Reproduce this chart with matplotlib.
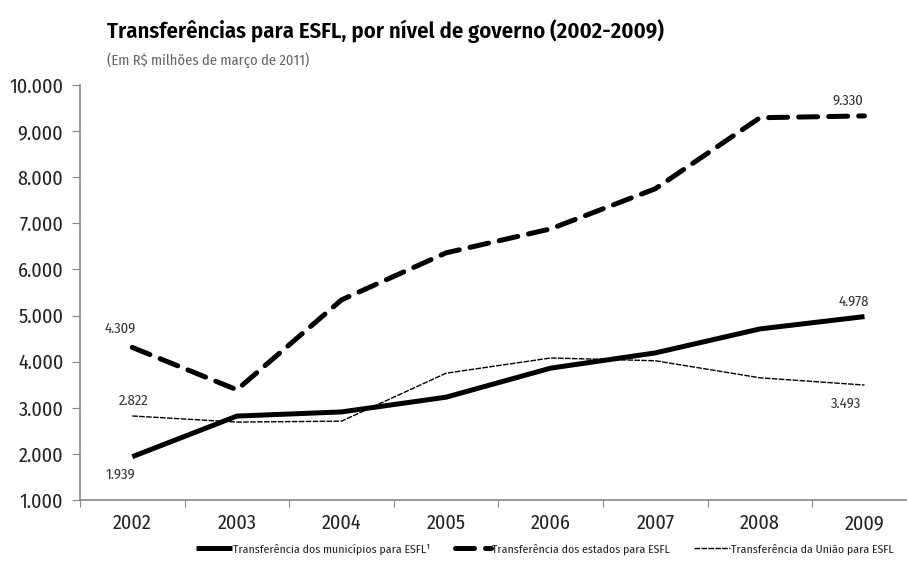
import matplotlib
matplotlib.use('Agg')
from matplotlib import pyplot as plt
import matplotlib.ticker as ticker

plt.rcParams['font.family'] = ['Fira Sans Condensed', 'DejaVu Sans']

years = [2002, 2003, 2004, 2005, 2006, 2007, 2008, 2009]
municipios = [1939, 2820, 2910, 3230, 3860, 4190, 4710, 4978]
estados = [4309, 3390, 5340, 6360, 6880, 7750, 9290, 9330]
uniao = [2822, 2690, 2710, 3750, 4080, 4020, 3650, 3493]

labels = ['Transferência dos municípios para ESFL\u00b9',
          'Transferência dos estados para ESFL',
          'Transferência da União para ESFL']

title = 'Transferências para ESFL, por nível de governo (2002-2009)'
subtitle = '(Em R$ milhões de março de 2011)'

def fmt_thousands(v, pos=None):
    return '{:,.0f}'.format(v).replace(',', '.')

fig = plt.figure(figsize=(9.07, 5.63), dpi=100)
ax = fig.add_axes([80 / 907, 63 / 563, 1 - 80 / 907, 415 / 563])

ax.plot(years, municipios, color='black', linewidth=3.6,
        solid_capstyle='butt', label=labels[0], zorder=3)
ax.plot(years, estados, color='black', linewidth=3.6,
        dashes=(3.8, 2.2), dash_capstyle='round', label=labels[1], zorder=3)
ax.plot(years, uniao, color='black', linewidth=1.0,
        dashes=(4, 1), label=labels[2], zorder=2)

# end point labels
lab_font = dict(fontsize=10.5, color='#333333', ha='center', va='center',
                textcoords='offset pixels')
ax.annotate(fmt_thousands(estados[0]), (years[0], estados[0]), xytext=(-12, 19), **lab_font)
ax.annotate(fmt_thousands(uniao[0]), (years[0], uniao[0]), xytext=(1, 15), **lab_font)
ax.annotate(fmt_thousands(municipios[0]), (years[0], municipios[0]), xytext=(-12, -18), **lab_font)
ax.annotate(fmt_thousands(estados[-1]), (years[-1], estados[-1]), xytext=(-17, 15), **lab_font)
ax.annotate(fmt_thousands(municipios[-1]), (years[-1], municipios[-1]), xytext=(-11, 15), **lab_font)
ax.annotate(fmt_thousands(uniao[-1]), (years[-1], uniao[-1]), xytext=(-19, -19), **lab_font)

ax.set_xlim(2001.5, 2001.5 + 827 / 104.6)
ax.set_ylim(1000, 10000)
ax.yaxis.set_major_locator(ticker.MultipleLocator(1000))
ax.yaxis.set_major_formatter(ticker.FuncFormatter(fmt_thousands))

# category labels centered, ticks between categories
ax.set_xticks([y - 0.5 for y in years])
ax.set_xticklabels([])
ax.set_xticks(years, minor=True)
ax.set_xticklabels([str(y) for y in years], minor=True)
ax.tick_params(axis='x', which='minor', length=0, pad=10, labelsize=14.5, labelcolor='#222222')
ax.tick_params(axis='x', which='major', length=5, direction='out', color='#888888')
ax.tick_params(axis='y', length=6, direction='out', color='#888888', pad=6,
               labelsize=14.5, labelcolor='#222222')

for side in ['top', 'right']:
    ax.spines[side].set_visible(False)
for side in ['left', 'bottom']:
    ax.spines[side].set_color('#888888')
    ax.spines[side].set_linewidth(1.2)

fig.text(107 / 907, 1 - 31 / 563, title, fontsize=16.3, fontweight='semibold',
         ha='left', va='center', color='black')
fig.text(107 / 907, 1 - 60 / 563, subtitle, fontsize=10.5,
         ha='left', va='center', color='#666666')

leg = fig.legend(loc='center right', bbox_to_anchor=(0.997, 1 - 549 / 563), ncol=3,
                 frameon=False, handlelength=3.0, handletextpad=0.1,
                 columnspacing=2.1, prop={'size': 8.5})
for t in leg.get_texts():
    t.set_color('#222222')

fig.savefig('out.png', dpi=100)
